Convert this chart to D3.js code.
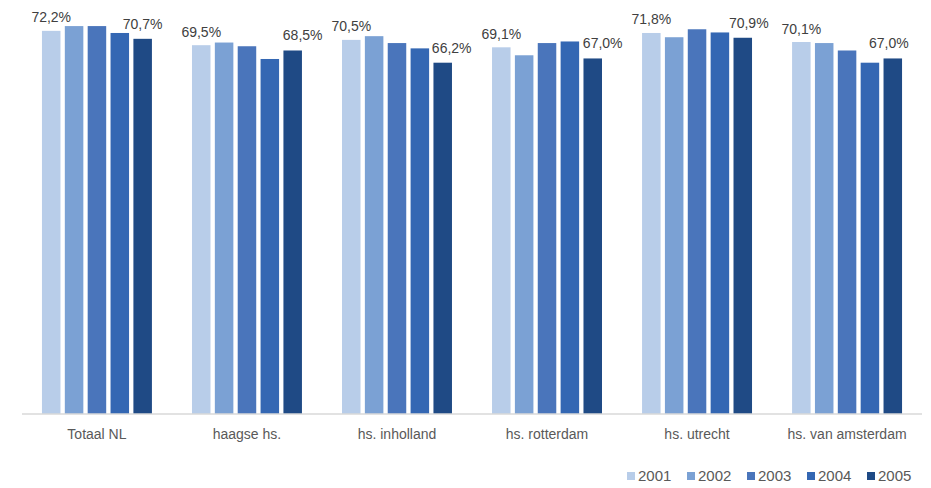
<!DOCTYPE html>
<html>
<head>
<meta charset="utf-8">
<script src="https://cdn.jsdelivr.net/npm/d3@7"></script>
<style>
  body { margin: 0; background: #fff; }
  svg { display: block; }
</style>
</head>
<body>
<div id="chart"></div>
<script>
const categories = ["Totaal NL", "haagse hs.", "hs. inholland", "hs. rotterdam", "hs. utrecht", "hs. van amsterdam"];
const years = ["2001", "2002", "2003", "2004", "2005"];
// percentages per year, one entry per category
const v2001 = [72.2, 69.5, 70.5, 69.1, 71.8, 70.1];
const v2002 = [73.1, 70.0, 71.2, 67.6, 71.0, 69.9];
const v2003 = [73.1, 69.3, 69.9, 69.9, 72.5, 68.5];
const v2004 = [71.8, 66.9, 68.9, 70.2, 71.9, 66.2];
const v2005 = [70.7, 68.5, 66.2, 67.0, 70.9, 67.0];
const colors = ["#b8cde9", "#7ba1d4", "#4a75bb", "#3467b3", "#1f4a85"];

const series = [v2001, v2002, v2003, v2004, v2005];
const labelled = ["2001", "2005"];

const width = 931, height = 488;
const fmt = v => d3.format(".1f")(v).replace(".", ",") + "%";

const svg = d3.select("#chart").append("svg")
    .attr("width", width)
    .attr("height", height)
    .style("font-family", "'Liberation Sans', Arial, sans-serif");

const x0 = d3.scaleBand()
    .domain(categories)
    .range([22, 922])
    .paddingInner(0.267)
    .paddingOuter(0.133);

const x1 = d3.scaleBand()
    .domain(years)
    .range([0, x0.bandwidth()])
    .paddingInner(0.19)
    .paddingOuter(0);

const y = d3.scaleLinear()
    .domain([0, 75])
    .range([414, 16]);

const color = d3.scaleOrdinal().domain(years).range(colors);

const groups = svg.append("g")
    .selectAll("g")
    .data(categories)
    .enter().append("g")
    .attr("transform", d => `translate(${x0(d)},0)`);

const rows = (c, i) => years.map((yr, j) => ({ year: yr, value: series[j][i], idx: i }));

groups.selectAll("rect")
    .data(rows)
    .enter().append("rect")
    .attr("x", d => x1(d.year))
    .attr("y", d => y(d.value))
    .attr("width", x1.bandwidth())
    .attr("height", d => y(0) - y(d.value))
    .attr("fill", d => color(d.year));

// last-year labels were nudged sideways in the original so they clear the neighbour bar
const nudge2005 = [0, 10, 9, 10, 6, -4];

groups.selectAll("text.lbl")
    .data((c, i) => rows(c, i).filter(d => labelled.includes(d.year)))
    .enter().append("text")
    .attr("class", "lbl")
    .attr("x", d => x1(d.year) + x1.bandwidth() / 2 + (d.year === "2005" ? nudge2005[d.idx] : 0))
    .attr("y", d => y(d.value) - (d.year === "2005" ? 10 : 8.5))
    .attr("text-anchor", "middle")
    .attr("font-size", 14)
    .attr("fill", "#404040")
    .text(d => fmt(d.value));

// x axis
const xAxis = svg.append("g")
    .attr("transform", `translate(0,${y(0)})`)
    .call(d3.axisBottom(x0).tickSize(0).tickPadding(15));
xAxis.select(".domain").attr("stroke", "#d9d9d9").attr("stroke-width", 1.5)
    .attr("d", "M22,0H922");
xAxis.selectAll("text")
    .attr("font-size", 14)
    .attr("fill", "#595959")
    .style("font-family", "'Liberation Sans', Arial, sans-serif");

// legend
const legend = svg.append("g")
    .selectAll("g")
    .data(years)
    .enter().append("g")
    .attr("transform", (d, i) => `translate(${627 + i * 60},476)`);

legend.append("rect")
    .attr("x", 0)
    .attr("y", -4)
    .attr("width", 8)
    .attr("height", 8)
    .attr("fill", d => color(d));

legend.append("text")
    .attr("x", 11)
    .attr("dy", "0.35em")
    .attr("font-size", 15)
    .attr("fill", "#595959")
    .text(d => d);
</script>
</body>
</html>
